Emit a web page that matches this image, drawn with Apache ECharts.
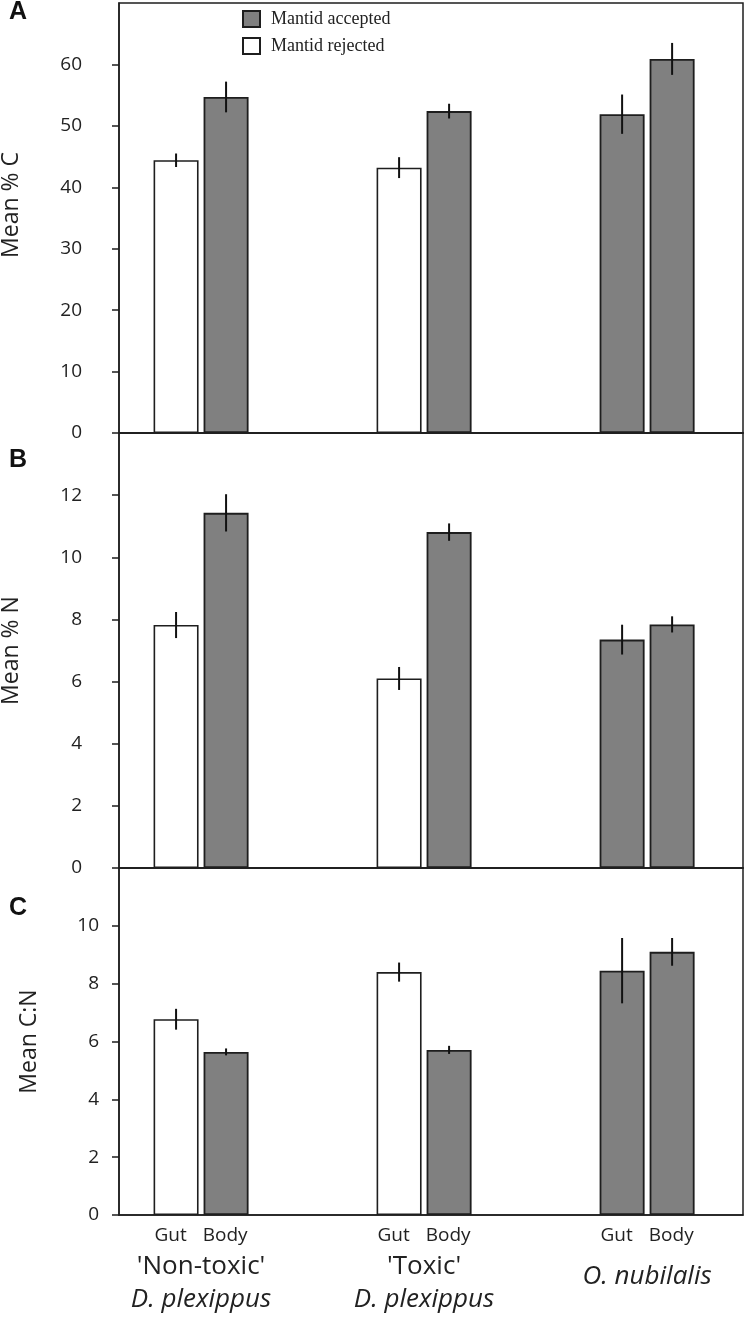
<!DOCTYPE html>
<html>
<head>
<meta charset="utf-8">
<script src="https://cdn.jsdelivr.net/npm/echarts@6/dist/echarts.min.js"></script>
<style>
html,body{margin:0;padding:0;background:#fff;}
#chart{width:744px;height:1319px;}
</style>
</head>
<body>
<div id="chart"></div>
<script>
// ---- data ----
const statusLabels = ["'Non-toxic'", "'Toxic'", ""];
const speciesLabels = ["D. plexippus", "D. plexippus", "O. nubilalis"];
const tissues = ["Gut", "Body"];
const gutFate = ["rejected", "rejected", "accepted"];   // body samples all accepted
const panelLetters = ["A", "B", "C"];
const yTitles = ["Mean % C", "Mean % N", "Mean C:N"];

const cGut = [44.4, 43.2, 51.9];
const cGutSE = [1.1, 1.7, 3.2];
const cBody = [54.7, 52.4, 60.9];
const cBodySE = [2.5, 1.2, 2.6];

const nGut = [7.82, 6.10, 7.35];
const nGutSE = [0.42, 0.37, 0.48];
const nBody = [11.43, 10.81, 7.84];
const nBodySE = [0.60, 0.28, 0.26];

const cnGut = [6.77, 8.40, 8.45];
const cnGutSE = [0.36, 0.33, 1.13];
const cnBody = [5.64, 5.71, 9.10];
const cnBodySE = [0.12, 0.14, 0.48];

const yMax = [70, 14, 12];
const yInterval = [10, 2, 2];

// ---- styling ----
const BAR_W = 45, BAR_GAP = 5;
const DARK = '#1e1e1e';
const GREY = '#808080';
const SANS = "'Open Sans', sans-serif";

const panels = [
  {gut: cGut, gutSE: cGutSE, body: cBody, bodySE: cBodySE},
  {gut: nGut, gutSE: nGutSE, body: nBody, bodySE: nBodySE},
  {gut: cnGut, gutSE: cnGutSE, body: cnBody, bodySE: cnBodySE}
];

const grids = [
  {left: 119, right: 1, top: 3, height: 430},
  {left: 119, right: 1, top: 433, height: 435},
  {left: 119, right: 1, top: 868, height: 347}
];
const labelMargins = [37, 37, 20];
const nameGaps = [96, 96, 78];

const xPos = i => i + 1;

function errRender(params, api) {
  const x = api.value(0), m = api.value(1), se = api.value(2), slot = api.value(3);
  const off = (slot === 0 ? -1 : 1) * (BAR_W + BAR_GAP) / 2;
  const hi = api.coord([x, m + se]);
  const lo = api.coord([x, m - se]);
  return {
    type: 'line',
    shape: {x1: hi[0] + off, y1: hi[1], x2: lo[0] + off, y2: lo[1]},
    style: {stroke: '#111', lineWidth: 2}
  };
}

const xAxes = [], yAxes = [], series = [], titles = [];
panels.forEach((p, k) => {
  const last = k === panels.length - 1;
  xAxes.push({
    type: 'value', gridIndex: k, min: 0.632, max: 3.43,
    axisLine: {show: true, lineStyle: {color: DARK, width: 1.5}},
    axisTick: {show: false},
    splitLine: {show: false},
    axisLabel: last ? {
      show: true,
      customValues: [1, 2, 3],
      margin: 9,
      formatter: v => {
        const i = Math.round(v) - 1;
        const top = '{gut|' + tissues[0] + '}{body|' + tissues[1] + '}';
        if (statusLabels[i]) {
          return top + '\n{st|' + statusLabels[i] + '}\n{sp|' + speciesLabels[i] + '}';
        }
        return top + '\n{solo|' + speciesLabels[i] + '}';
      },
      rich: {
        gut: {fontFamily: SANS, fontSize: 19, color: '#222', lineHeight: 24, padding: [0, 16, 0, 0]},
        body: {fontFamily: SANS, fontSize: 19, color: '#222', lineHeight: 24},
        st: {fontFamily: SANS, fontSize: 26, color: '#222', lineHeight: 38},
        sp: {fontFamily: SANS, fontSize: 26, color: '#222', fontStyle: 'italic', lineHeight: 28},
        solo: {fontFamily: SANS, fontSize: 26, color: '#222', fontStyle: 'italic', lineHeight: 58}
      }
    } : {show: false}
  });
  yAxes.push({
    type: 'value', gridIndex: k, min: 0, max: yMax[k], interval: yInterval[k],
    name: yTitles[k], nameLocation: 'middle', nameRotate: 90, nameGap: nameGaps[k],
    nameTextStyle: {fontFamily: SANS, fontSize: 23, color: '#222', padding: k === 0 ? [0, 0, 0, 26] : 0},
    axisLine: {show: true, lineStyle: {color: DARK, width: 1.5}},
    axisTick: {show: true, inside: false, length: 7, lineStyle: {color: DARK, width: 1.5}},
    splitLine: {show: false},
    axisLabel: {fontFamily: SANS, fontSize: 19, color: '#222', margin: labelMargins[k], showMaxLabel: false}
  });
  const barBase = {
    type: 'bar', xAxisIndex: k, yAxisIndex: k, barWidth: BAR_W, barGap: (BAR_GAP / BAR_W * 100) + '%',
    z: 2
  };
  series.push(Object.assign({}, barBase, {
    name: 'Mantid rejected', stack: 'gut' + k,
    itemStyle: {color: '#ffffff', borderColor: DARK, borderWidth: 1.6},
    data: p.gut.map((v, i) => [xPos(i), gutFate[i] === 'rejected' ? v : '-'])
  }));
  series.push(Object.assign({}, barBase, {
    name: 'Mantid accepted', stack: 'gut' + k,
    itemStyle: {color: GREY, borderColor: DARK, borderWidth: 1.8},
    data: p.gut.map((v, i) => [xPos(i), gutFate[i] === 'accepted' ? v : '-'])
  }));
  series.push(Object.assign({}, barBase, {
    name: 'Mantid accepted', stack: 'body' + k,
    itemStyle: {color: GREY, borderColor: DARK, borderWidth: 1.8},
    data: p.body.map((v, i) => [xPos(i), v])
  }));
  const errData = [];
  p.gut.forEach((v, i) => errData.push([xPos(i), v, p.gutSE[i], 0]));
  p.body.forEach((v, i) => errData.push([xPos(i), v, p.bodySE[i], 1]));
  series.push({
    type: 'custom', name: 'SE', xAxisIndex: k, yAxisIndex: k, z: 5,
    renderItem: errRender, encode: {x: 0, y: 1}, data: errData, silent: true
  });
  titles.push({
    text: panelLetters[k], left: 9, top: [0, 448, 896][k], padding: 0,
    textStyle: {fontFamily: "'Liberation Sans', Arial, sans-serif", fontWeight: 'bold', fontSize: 25, color: '#111'}
  });
});

const chart = echarts.init(document.getElementById('chart'), null, {renderer: 'canvas'});
chart.setOption({
  animation: false,
  backgroundColor: '#fff',
  title: titles,
  legend: {
    data: ['Mantid accepted', 'Mantid rejected'],
    orient: 'vertical', left: 242, top: 10, padding: 0, icon: 'rect',
    itemWidth: 17, itemHeight: 16, itemGap: 9, selectedMode: false,
    textStyle: {fontFamily: "'Liberation Serif', serif", fontSize: 18, color: '#222', padding: [0, 0, 0, 6]}
  },
  grid: grids.map(g => Object.assign({show: true, borderColor: DARK, borderWidth: 1.5, backgroundColor: 'transparent', containLabel: false, outerBoundsMode: 'none'}, g)),
  xAxis: xAxes,
  yAxis: yAxes,
  series: series
});
</script>
</body>
</html>
